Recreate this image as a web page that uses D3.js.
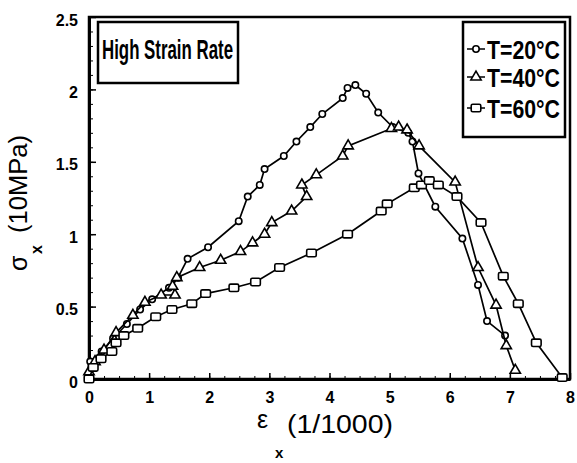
<!DOCTYPE html>
<html lang="en">
<head>
    <meta charset="UTF-8">
    <title>High Strain Rate - stress vs strain</title>
    <script src="https://cdn.jsdelivr.net/npm/d3@7/dist/d3.min.js"></script>
    <style>
        body { margin: 0; background: #fff; }
        text { font-family: "Liberation Sans", Arial, sans-serif; fill: #000; }
    </style>
</head>
<body>
<script type="application/javascript">

    // values
    let strain20 = [0, 0.02, 0.21, 0.4, 0.63, 0.85, 1.05, 1.33, 1.48, 1.64, 1.98, 2.49, 2.64, 2.84, 2.92,
        3.24, 3.45, 3.68, 3.88, 4.22, 4.30, 4.43, 4.61, 4.81, 5.05, 5.31, 5.38, 5.48, 5.76, 6.21, 6.47, 6.62, 6.92];
    let stress20 = [0.03, 0.12, 0.19, 0.28, 0.38, 0.48, 0.55, 0.63, 0.70, 0.83, 0.91, 1.09, 1.26, 1.34, 1.45,
        1.54, 1.64, 1.74, 1.83, 1.94, 2.01, 2.03, 1.97, 1.84, 1.74, 1.70, 1.64, 1.42, 1.19, 0.97, 0.65, 0.40, 0.30];

    let strain40 = [0, 0.1, 0.25, 0.45, 0.73, 0.93, 1.2, 1.43, 1.39, 1.46, 1.84, 2.19, 2.52, 2.72, 2.92, 3.04,
        3.37, 3.62, 3.54, 3.78, 4.22, 4.31, 5.03, 5.15, 5.29, 5.49, 6.09, 6.47, 6.77, 6.94, 7.09];
    let stress40 = [0.05, 0.12, 0.2, 0.32, 0.44, 0.53, 0.58, 0.58, 0.64, 0.70, 0.77, 0.82, 0.88, 0.94, 1.00, 1.08,
        1.16, 1.26, 1.34, 1.41, 1.54, 1.61, 1.73, 1.74, 1.72, 1.61, 1.36, 0.77, 0.51, 0.23, 0.06];

    let strain60 = [0, 0.07, 0.2, 0.38, 0.45, 0.58, 0.81, 1.11, 1.38, 1.71, 1.94, 2.41, 2.77, 3.17, 3.70, 4.30,
        4.86, 4.96, 5.41, 5.53, 5.66, 5.81, 6.12, 6.52, 6.89, 7.14, 7.44, 7.87];
    let stress60 = [0, 0.08, 0.14, 0.19, 0.25, 0.30, 0.35, 0.43, 0.48, 0.52, 0.59, 0.63, 0.67, 0.77, 0.87, 1.00,
        1.16, 1.21, 1.32, 1.34, 1.37, 1.34, 1.26, 1.08, 0.71, 0.52, 0.25, 0.01];

    let xTicks = [0, 1, 2, 3, 4, 5, 6, 7, 8];
    let yTicks = [0, 0.5, 1, 1.5, 2, 2.5];
    let yTickLabels = ["0", "0.5", "1", "1.5", "2", "2.5"];
    let seriesNames = ["T=20°C", "T=40°C", "T=60°C"];
    let markerKinds = ["circle", "triangle", "square"];

    let w = 577, h = 463;

    let xScale = d3.scaleLinear().domain([0, 8]).range([89, 570]);
    let yScale = d3.scaleLinear().domain([0, 2.5]).range([379, 17]);

    let series = [
        { name: seriesNames[0], kind: markerKinds[0], pts: strain20.map(function(x, i) { return [x, stress20[i]]; }) },
        { name: seriesNames[1], kind: markerKinds[1], pts: strain40.map(function(x, i) { return [x, stress40[i]]; }) },
        { name: seriesNames[2], kind: markerKinds[2], pts: strain60.map(function(x, i) { return [x, stress60[i]]; }) }
    ];

    let svg = d3.select("body")
        .append("svg")
        .attr("width", w)
        .attr("height", h);

    // plot frame
    svg.append("rect")
        .attr("x", xScale(0))
        .attr("y", yScale(2.5))
        .attr("width", xScale(8) - xScale(0))
        .attr("height", yScale(0) - yScale(2.5))
        .attr("fill", "none")
        .attr("stroke", "#000")
        .attr("stroke-width", 2.5);

    // minor ticks
    svg.append("g")
        .attr("transform", "translate(0," + yScale(0) + ")")
        .call(d3.axisBottom(xScale).tickValues(d3.range(0, 8.01, 0.25)).tickSize(-3).tickFormat(""))
        .call(function(g) { g.select(".domain").remove(); });
    svg.append("g")
        .attr("transform", "translate(" + xScale(0) + ",0)")
        .call(d3.axisLeft(yScale).tickValues(d3.range(0, 2.51, 0.1)).tickSize(-4).tickFormat(""))
        .call(function(g) { g.select(".domain").remove(); });

    // major axes
    let xAxis = svg.append("g")
        .attr("transform", "translate(0," + yScale(0) + ")")
        .call(d3.axisBottom(xScale).tickValues(xTicks).tickSize(-6).tickSizeOuter(0).tickPadding(13));
    let yAxis = svg.append("g")
        .attr("transform", "translate(" + xScale(0) + ",0)")
        .call(d3.axisLeft(yScale).tickValues(yTicks).tickSize(-7).tickSizeOuter(0).tickPadding(11)
            .tickFormat(function(d, i) { return yTickLabels[i]; }));

    [xAxis, yAxis].forEach(function(g) {
        g.select(".domain").attr("stroke-width", 3);
        g.selectAll(".tick line").attr("stroke-width", 1.5);
        g.selectAll(".tick text")
            .style("font-size", "16px")
            .style("font-weight", "bold")
            .style("font-family", "'Liberation Sans', Arial, sans-serif");
    });
    yAxis.selectAll(".tick text").attr("dy", "0.5em");

    let line = d3.line()
        .x(function(d) { return xScale(d[0]); })
        .y(function(d) { return yScale(d[1]); });

    function drawMarker(g, kind) {
        if (kind === "circle") {
            g.append("circle").attr("r", 3.2);
        } else if (kind === "triangle") {
            g.append("path").attr("d", d3.symbol(d3.symbolTriangle, 46)());
        } else {
            g.append("rect").attr("x", -4.8).attr("y", -3.7).attr("width", 9.6).attr("height", 7.4).attr("rx", 1.5);
        }
        g.selectAll("*")
            .attr("fill", "#fff")
            .attr("stroke", "#000")
            .attr("stroke-width", 1.6);
    }

    let groups = svg.selectAll("g.series")
        .data(series)
        .enter()
        .append("g")
        .attr("class", "series");

    groups.append("path")
        .attr("d", function(d) { return line(d.pts); })
        .attr("fill", "none")
        .attr("stroke", "#000")
        .attr("stroke-width", 1.7);

    groups.each(function(s) {
        d3.select(this).selectAll("g.pt")
            .data(s.pts)
            .enter()
            .append("g")
            .attr("class", "pt")
            .attr("transform", function(d) { return "translate(" + xScale(d[0]) + "," + yScale(d[1]) + ")"; })
            .each(function() { drawMarker(d3.select(this), s.kind); });
    });

    // "High Strain Rate" box
    svg.append("rect")
        .attr("x", 98).attr("y", 22)
        .attr("width", 140).attr("height", 61)
        .attr("fill", "#fff")
        .attr("stroke", "#000")
        .attr("stroke-width", 2.5);
    svg.append("text")
        .attr("x", 102).attr("y", 59)
        .attr("textLength", 131)
        .attr("lengthAdjust", "spacingAndGlyphs")
        .style("font-size", "28px")
        .style("font-weight", "bold")
        .text("High Strain Rate");

    // legend
    let legend = svg.append("g");
    legend.append("rect")
        .attr("x", 463).attr("y", 22)
        .attr("width", 102).attr("height", 115)
        .attr("fill", "#fff")
        .attr("stroke", "#000")
        .attr("stroke-width", 2.5);
    let rowY = [49, 77, 108];
    series.forEach(function(s, i) {
        let row = legend.append("g").attr("transform", "translate(0," + rowY[i] + ")");
        row.append("line")
            .attr("x1", 467).attr("x2", 485)
            .attr("stroke", "#000").attr("stroke-width", 1.5);
        drawMarker(row.append("g").attr("transform", "translate(476,0)"), s.kind);
        row.append("text")
            .attr("x", 487).attr("y", 10)
            .attr("textLength", 73)
            .attr("lengthAdjust", "spacingAndGlyphs")
            .style("font-size", "25px")
            .style("font-weight", "bold")
            .text(s.name);
    });

    // x axis title
    svg.append("text").attr("x", 257).attr("y", 428).style("font-size", "25px").text("ε");
    svg.append("text").attr("x", 275).attr("y", 458).style("font-size", "15px").style("font-weight", "bold").text("x");
    svg.append("text").attr("x", 287).attr("y", 433)
        .attr("textLength", 106).attr("lengthAdjust", "spacingAndGlyphs")
        .style("font-size", "25px").text("(1/1000)");

    // y axis title (rotated)
    let yTitle = svg.append("g").attr("transform", "translate(27,0) rotate(-90)");
    yTitle.append("text").attr("x", -271).attr("y", 0).style("font-size", "25px").text("σ");
    yTitle.append("text").attr("x", -254).attr("y", 15).style("font-size", "16px").style("font-weight", "bold").text("x");
    yTitle.append("text").attr("x", -233).attr("y", 0)
        .attr("textLength", 98).attr("lengthAdjust", "spacingAndGlyphs")
        .style("font-size", "25px").text("(10MPa)");

</script>
</body>
</html>
